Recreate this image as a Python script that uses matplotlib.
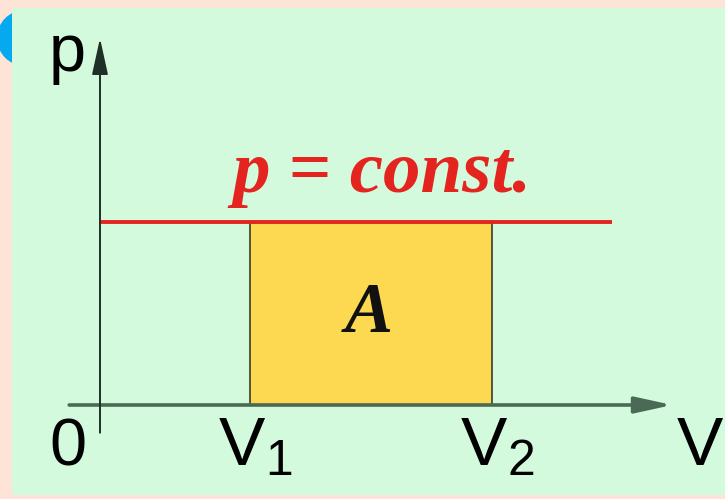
import matplotlib
matplotlib.use('Agg')
import matplotlib.pyplot as plt
from matplotlib.patches import Rectangle, Ellipse

# isobaric process: work A = p * (V2 - V1), arbitrary units
V1 = 2.0
V2 = 5.23
p_const = 2.44
V_line_end = 6.83
V_axis = (-0.41, 7.63)
p_axis = (-0.37, 4.89)

label_area = 'A'
label_line = 'p = const.'

fig = plt.figure(figsize=(7.25, 4.99), dpi=100)
fig.patch.set_facecolor('#fde4d6')

# blue dot in the corner, partly under the green panel
fig.patches.append(Ellipse((25 / 725, 1 - 38 / 499), 56 / 725, 56 / 499, transform=fig.transFigure,
                           facecolor='#05a9ee', edgecolor='none', zorder=0))
fig.patches.append(Rectangle((12 / 725, 4 / 499), 713 / 725, 487 / 499, transform=fig.transFigure,
                             facecolor='#d3fadc', edgecolor='none', zorder=1))

ax = fig.add_axes([0, 0, 1, 1])
ax.set_zorder(5)
ax.set_facecolor('none')
ax.set_xlim(-100 / 75, 625 / 75)
ax.set_ylim(-94 / 75, 405 / 75)
ax.axis('off')

# the work area
ax.add_patch(Rectangle((V1, 0), V2 - V1, p_const, facecolor='#fdd951',
                       edgecolor='#3b3b25', linewidth=1.2, zorder=2))
# isobar
ax.plot([0, V_line_end], [p_const, p_const], color='#e3241f', linewidth=2.8,
        solid_capstyle='butt', zorder=3)

# axes with arrows
ax.annotate('', xy=(V_axis[1], 0), xytext=(V_axis[0], 0),
            arrowprops=dict(arrowstyle='-|>,head_length=1.5,head_width=0.33', mutation_scale=15,
                            color='#4a6a55', linewidth=2.6, shrinkA=0, shrinkB=0), zorder=4)
ax.annotate('', xy=(0, p_axis[1]), xytext=(0, p_axis[0]),
            arrowprops=dict(arrowstyle='-|>,head_length=1.5,head_width=0.33', mutation_scale=15,
                            color='#1f3026', linewidth=1.4, shrinkA=0, shrinkB=0), zorder=4)

sans = 'Liberation Sans'
serif = 'Liberation Serif'
ax.text(-0.44, 4.45, 'p', fontsize=48, family=sans, ha='center', va='baseline')
ax.text(-0.43, -0.8, '0', fontsize=48, family=sans, ha='center', va='baseline')
ax.text(8.0, -0.8, 'V', fontsize=50, family=sans, ha='center', va='baseline')

# V1, V2 with big subscripts
for val, sub in [(V1, '1'), (V2, '2')]:
    ax.text(val + 0.2, -0.8, 'V', fontsize=50, family=sans, ha='right', va='baseline')
    ax.text(val + 0.2, -0.935, sub, fontsize=36, family=sans, ha='left', va='baseline')

ax.text((V1 + V2) / 2 + 0.15, 2.84, label_line, fontsize=54, family=serif, style='italic',
        weight='bold', color='#e3241f', ha='center', va='baseline')
ax.text((V1 + V2) / 2 - 0.03, p_const / 2 - 0.25, label_area, fontsize=52, family=serif,
        style='italic', weight='bold', color='#111111', ha='center', va='baseline', zorder=5)

fig.savefig('out.png', dpi=100)
